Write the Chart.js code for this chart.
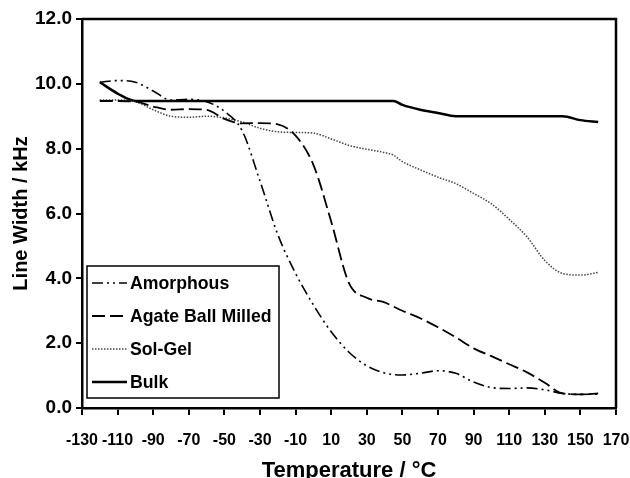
<!DOCTYPE html>
<html>
<head>
<meta charset="utf-8">
<script src="https://cdn.jsdelivr.net/npm/chart.js@4/dist/chart.umd.min.js"></script>
<style>
html,body{margin:0;padding:0;background:#fff;}
#wrap{width:630px;height:478px;position:relative;}
</style>
</head>
<body>
<div id="wrap"><canvas id="c" width="630" height="478"></canvas></div>
<script>
const temperatures = [-120,-110,-100,-90,-80,-70,-60,-50,-40,-30,-20,-10,0,10,20,30,40,45,50,60,70,80,90,100,110,120,130,140,150,160];
const amorphous = [10.05,10.1,10.05,9.78,9.5,9.52,9.45,9.15,8.55,7.0,5.35,4.15,3.18,2.35,1.72,1.3,1.08,1.03,1.02,1.07,1.15,1.07,0.8,0.63,0.6,0.62,0.56,0.45,0.42,0.43];
const agateBallMilled = [9.47,9.47,9.45,9.3,9.2,9.22,9.2,8.92,8.78,8.79,8.75,8.4,7.5,5.75,3.85,3.4,3.26,3.13,3.0,2.77,2.49,2.18,1.84,1.6,1.35,1.1,0.78,0.45,0.42,0.45];
const solGel = [9.5,9.5,9.45,9.2,9.0,8.97,9.0,8.95,8.82,8.63,8.52,8.5,8.48,8.3,8.1,7.98,7.88,7.8,7.6,7.35,7.12,6.92,6.62,6.3,5.82,5.28,4.55,4.15,4.1,4.18];
const bulk = [10.05,9.7,9.47,9.47,9.47,9.47,9.47,9.47,9.47,9.47,9.47,9.47,9.47,9.47,9.47,9.47,9.47,9.47,9.35,9.2,9.1,9.0,9.0,9.0,9.0,9.0,9.0,9.0,8.88,8.82];
const seriesLabels = ["Amorphous","Agate Ball Milled","Sol-Gel","Bulk"];
const xTitle = "Temperature / °C";
const yTitle = "Line Width / kHz";

function pts(vals){ return temperatures.map((t,i)=>({x:t,y:vals[i]})); }

const FONT = "'Liberation Sans', Arial, sans-serif";

const frameAndLegend = {
  id:'frameAndLegend',
  afterDraw(chart){
    const ctx = chart.ctx, a = chart.chartArea;
    ctx.save();
    ctx.strokeStyle = '#000';
    ctx.lineWidth = 2.5;
    ctx.beginPath();
    ctx.moveTo(a.left, a.top); ctx.lineTo(a.right, a.top); ctx.lineTo(a.right, a.bottom);
    ctx.stroke();
    // legend box
    const bx = 87, by = 266, bw = 192, bh = 132;
    ctx.lineWidth = 1.5;
    ctx.strokeRect(bx, by, bw, bh);
    ctx.font = "bold 17.7px " + FONT;
    ctx.textBaseline = 'middle';
    ctx.fillStyle = '#000';
    chart.data.datasets.forEach((ds, i) => {
      const y = by + 17 + i * 33;
      ctx.save();
      ctx.strokeStyle = ds.borderColor;
      ctx.lineWidth = ds.borderWidth;
      ctx.setLineDash(ds.borderDash || []);
      ctx.beginPath(); ctx.moveTo(92, y); ctx.lineTo(127, y); ctx.stroke();
      ctx.restore();
      ctx.fillText(ds.label, 130, y + 1);
    });
    ctx.restore();
  }
};

new Chart(document.getElementById('c'), {
  type: 'line',
  data: {
    datasets: [
      {label: seriesLabels[0], data: pts(amorphous), borderColor:'#000', borderWidth:1.6, borderDash:[11,4,2,4,2,4], pointRadius:0, fill:false, cubicInterpolationMode:'monotone'},
      {label: seriesLabels[1], data: pts(agateBallMilled), borderColor:'#000', borderWidth:1.8, borderDash:[13,5], pointRadius:0, fill:false, cubicInterpolationMode:'monotone'},
      {label: seriesLabels[2], data: pts(solGel), borderColor:'#444', borderWidth:1.5, borderDash:[1.5,1.5], pointRadius:0, fill:false, cubicInterpolationMode:'monotone'},
      {label: seriesLabels[3], data: pts(bulk), borderColor:'#000', borderWidth:2.5, borderDash:[], pointRadius:0, fill:false, cubicInterpolationMode:'monotone'}
    ]
  },
  options: {
    responsive:false,
    animation:false,
    layout:{padding:{left:0, top:19, right:14, bottom:0}},
    plugins:{legend:{display:false}, tooltip:{enabled:false}},
    scales:{
      x:{
        type:'linear', min:-130, max:170,
        ticks:{stepSize:20, color:'#000', font:{family:FONT, size:16, weight:'bold'}, padding:16, maxRotation:0, autoSkip:false},
        grid:{drawOnChartArea:false, drawTicks:true, tickLength:7, color:'#000', lineWidth:2},
        border:{display:true, color:'#000', width:2.5},
        title:{display:true, text:xTitle, color:'#000', font:{family:FONT, size:22, weight:'bold', lineHeight:1}, padding:{top:4,bottom:-4}},
        afterFit(s){ s.height = 70; s.paddingLeft = 0; s.paddingRight = 0; }
      },
      y:{
        min:0, max:12,
        ticks:{stepSize:2, color:'#000', font:{family:FONT, size:19, weight:'bold'}, padding:4, callback:v=>Number(v).toFixed(1)},
        grid:{drawOnChartArea:false, drawTicks:true, tickLength:6, color:'#000', lineWidth:2},
        border:{display:true, color:'#000', width:2.5},
        title:{display:true, text:yTitle, color:'#000', font:{family:FONT, size:20, weight:'bold', lineHeight:1}, padding:{top:11,bottom:0}},
        afterFit(s){ s.width = 82; s.paddingTop = 0; s.paddingBottom = 0; }
      }
    }
  },
  plugins:[frameAndLegend]
});
</script>
</body>
</html>
